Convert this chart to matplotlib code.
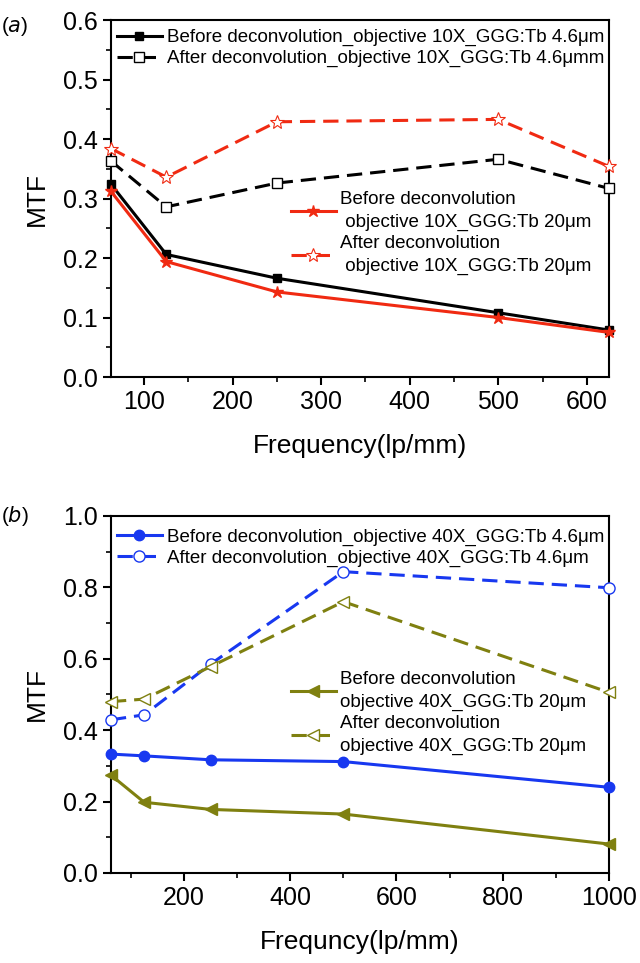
import matplotlib
matplotlib.use("Agg")
import matplotlib.pyplot as plt
from matplotlib.ticker import MultipleLocator

plt.rcParams['font.family'] = ['Liberation Sans', 'DejaVu Sans']

# panel (a): objective 10X
freq_a = [62.5, 125, 250, 500, 625]
before_10x_46 = [0.324, 0.206, 0.166, 0.108, 0.079]
after_10x_46 = [0.363, 0.286, 0.326, 0.366, 0.317]
before_10x_20 = [0.312, 0.194, 0.143, 0.100, 0.075]
after_10x_20 = [0.384, 0.336, 0.429, 0.433, 0.354]

# panel (b): objective 40X
freq_b = [62.5, 125, 250, 500, 1000]
before_40x_46 = [0.333, 0.328, 0.317, 0.312, 0.240]
after_40x_46 = [0.429, 0.443, 0.585, 0.844, 0.799]
before_40x_20 = [0.274, 0.198, 0.178, 0.165, 0.081]
after_40x_20 = [0.480, 0.487, 0.578, 0.760, 0.506]

red = '#f02a12'
blue = '#1838f0'
olive = '#7f8010'
dash = (5, 2.6)
lw = 2.2
leg_fs = 13.5

fig = plt.figure(figsize=(6.4, 9.63), dpi=100)
ax1 = fig.add_axes([0.1734, 0.6085, 0.778, 0.3707])
ax2 = fig.add_axes([0.1734, 0.0935, 0.778, 0.3707])


def make_legend(ax, handles, anchor, spacing):
    leg = ax.legend(handles=handles, loc='upper left', bbox_to_anchor=anchor,
                    frameon=False, fontsize=leg_fs, borderpad=0, borderaxespad=0,
                    handlelength=2.4, handletextpad=0.25, labelspacing=spacing, numpoints=1)
    for t in leg.get_texts():
        t.set_linespacing(1.4)
    return leg


# ---- panel a
l1, = ax1.plot(freq_a, before_10x_46, color='black', lw=lw, marker='s', ms=6,
               label='Before deconvolution_objective 10X_GGG:Tb 4.6μm', clip_on=False, zorder=3)
l2, = ax1.plot(freq_a, after_10x_46, color='black', lw=lw, ls='--', dashes=dash, marker='s', ms=7,
               mfc='white', mew=1, label='After deconvolution_objective 10X_GGG:Tb 4.6μmm', clip_on=False, zorder=3)
l3, = ax1.plot(freq_a, before_10x_20, color=red, lw=lw, marker='*', ms=9,
               label='Before deconvolution\n objective 10X_GGG:Tb 20μm', clip_on=False, zorder=4)
l4, = ax1.plot(freq_a, after_10x_20, color=red, lw=lw, ls='--', dashes=dash, marker='*', ms=10,
               mfc='white', mew=0.8, label='After deconvolution\n objective 10X_GGG:Tb 20μm', clip_on=False, zorder=3)

ax1.set_xlim(62.5, 625)
ax1.set_ylim(0, 0.6)
ax1.xaxis.set_major_locator(MultipleLocator(100))
ax1.xaxis.set_minor_locator(MultipleLocator(50))
ax1.yaxis.set_major_locator(MultipleLocator(0.1))
ax1.yaxis.set_minor_locator(MultipleLocator(0.05))
ax1.set_xlabel('Frequency(lp/mm)', fontsize=19, labelpad=14)
ax1.set_ylabel('MTF', fontsize=19, labelpad=10)

leg_a1 = make_legend(ax1, [l1, l2], (0.012, 0.975), 0.2)
ax1.add_artist(leg_a1)
make_legend(ax1, [l3, l4], (0.361, 0.52), 0.25)

# ---- panel b
m1, = ax2.plot(freq_b, before_40x_46, color=blue, lw=lw, marker='o', ms=7.5,
               label='Before deconvolution_objective 40X_GGG:Tb 4.6μm', clip_on=False, zorder=3)
m2, = ax2.plot(freq_b, after_40x_46, color=blue, lw=lw, ls='--', dashes=dash, marker='o', ms=8,
               mfc='white', mew=1, label='After deconvolution_objective 40X_GGG:Tb 4.6μm', clip_on=False, zorder=3)
m3, = ax2.plot(freq_b, before_40x_20, color=olive, lw=lw, marker='<', ms=8,
               label='Before deconvolution\nobjective 40X_GGG:Tb 20μm', clip_on=False, zorder=3)
m4, = ax2.plot(freq_b, after_40x_20, color=olive, lw=lw, ls='--', dashes=dash, marker='<', ms=9,
               mfc='white', mew=1, label='After deconvolution\nobjective 40X_GGG:Tb 20μm', clip_on=False, zorder=3)

ax2.set_xlim(62.5, 1000)
ax2.set_ylim(0, 1.0)
ax2.xaxis.set_major_locator(MultipleLocator(200))
ax2.xaxis.set_minor_locator(MultipleLocator(100))
ax2.yaxis.set_major_locator(MultipleLocator(0.2))
ax2.yaxis.set_minor_locator(MultipleLocator(0.1))
ax2.set_xlabel('Frequncy(lp/mm)', fontsize=19, labelpad=14)
ax2.set_ylabel('MTF', fontsize=19, labelpad=10)

leg_b1 = make_legend(ax2, [m1, m2], (0.012, 0.965), 0.2)
ax2.add_artist(leg_b1)
make_legend(ax2, [m3, m4], (0.361, 0.565), 0.25)

for ax in (ax1, ax2):
    for s in ax.spines.values():
        s.set_linewidth(1.5)
    ax.tick_params(which='major', direction='out', length=6, width=1.5, labelsize=18)
    ax.tick_params(which='minor', direction='out', length=3.5, width=1.2)
    ax.tick_params(top=False, right=False)

fig.text(0.002, 1 - 26 / 963, '($\\it{a}$)', fontsize=15, va='center')
fig.text(0.002, 1 - 516 / 963, '($\\it{b}$)', fontsize=15, va='center')

fig.savefig('out.png', dpi=100)
